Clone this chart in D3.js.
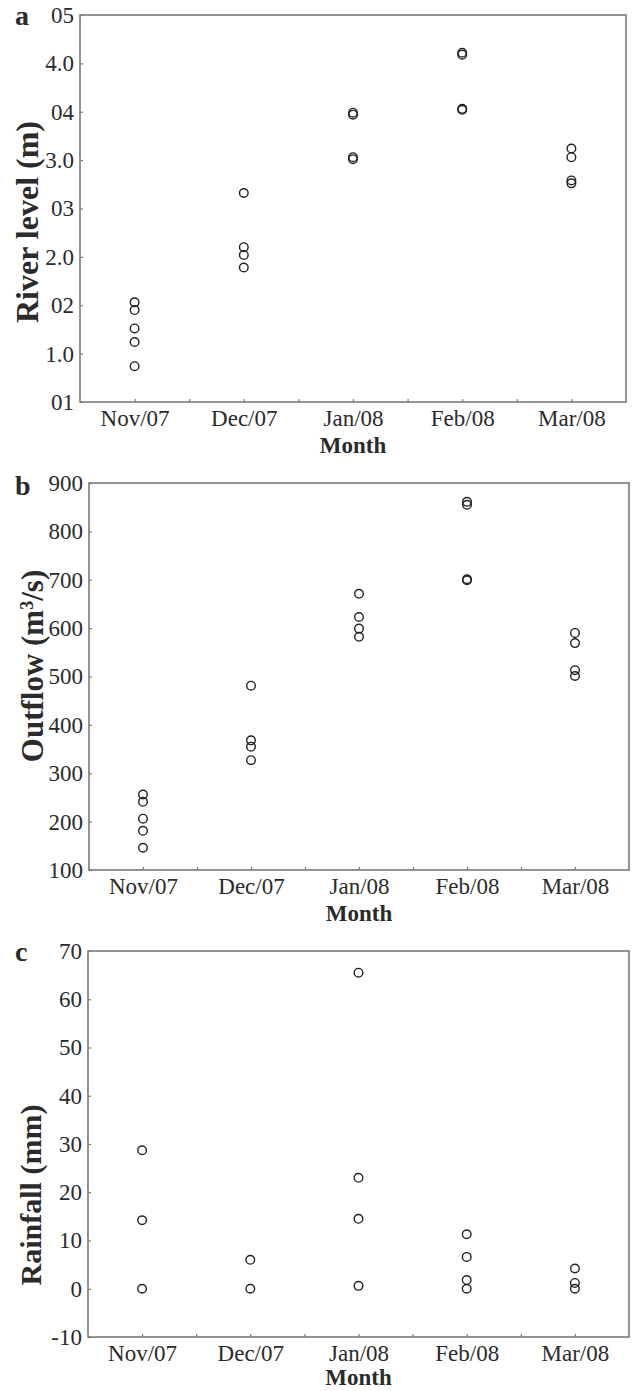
<!DOCTYPE html>
<html>
<head>
<meta charset="utf-8">
<script src="https://cdn.jsdelivr.net/npm/d3@7"></script>
<style>
  body { margin: 0; background: #fff; }
  text { font-family: "Liberation Serif", "Times New Roman", serif; fill: #2b2b2b; }
  .tick line { stroke: #7a7a7a; stroke-width: 1.2; }
  .tick text { font-size: 23px; }
</style>
</head>
<body>
<svg id="chart" width="633" height="1391"></svg>
<script>
/* Data */
const months = ["Nov/07", "Dec/07", "Jan/08", "Feb/08", "Mar/08"];

// river level (m), one list per month
const riverLevel = [
  [1.53, 1.45, 1.26, 1.12, 0.87],
  [2.66, 2.10, 2.02, 1.89],
  [3.49, 3.47, 3.03, 3.01],
  [4.11, 4.09, 3.53, 3.52],
  [3.12, 3.03, 2.79, 2.76]
];
const riverTicks = [0.5, 1.0, 1.5, 2.0, 2.5, 3.0, 3.5, 4.0, 4.5];
const riverTickLabels = ["01", "1.0", "02", "2.0", "03", "3.0", "04", "4.0", "05"];

// outflow (m3/s)
const outflow = [
  [256, 241, 206, 181, 146],
  [481, 368, 355, 327],
  [671, 623, 599, 582],
  [861, 855, 701, 699],
  [590, 569, 513, 501]
];
const outflowTicks = [100, 200, 300, 400, 500, 600, 700, 800, 900];

// rainfall (mm)
const rainfall = [
  [28.7, 14.2, 0],
  [6.0, 0],
  [65.5, 23.0, 14.5, 0.6],
  [11.3, 6.6, 1.8, 0],
  [4.2, 1.2, 0]
];
const rainfallTicks = [-10, 0, 10, 20, 30, 40, 50, 60, 70];

/* Layout */
const panels = [
  { letter: "a", values: riverLevel, ticks: riverTicks, labels: riverTickLabels,
    box: { left: 80, right: 626, top: 15, bottom: 402 },
    title: { y: 222, x: 38, size: 32 }, titleParts: [["River level (m)"]] },
  { letter: "b", values: outflow, ticks: outflowTicks, labels: outflowTicks.map(String),
    box: { left: 89, right: 629, top: 483, bottom: 870 },
    title: { y: 666, x: 43, size: 31 }, titleParts: [["Outflow (m"], ["3", "sup"], ["/s)"]] },
  { letter: "c", values: rainfall, ticks: rainfallTicks, labels: rainfallTicks.map(String),
    box: { left: 88, right: 629, top: 951, bottom: 1337 },
    title: { y: 1195, x: 41, size: 30 }, titleParts: [["Rainfall (mm)"]] }
];

const svg = d3.select("#chart");
const xTickValues = d3.range(1, 5.01, 0.5);

panels.forEach(p => {
  const b = p.box;
  const g = svg.append("g");

  const x = d3.scaleLinear().domain([0.5, 5.5]).range([b.left, b.right]);
  const y = d3.scaleLinear()
    .domain([p.ticks[0], p.ticks[p.ticks.length - 1]])
    .range([b.bottom, b.top]);

  //Axes
  const xAxis = g.append("g")
    .attr("transform", `translate(0,${b.bottom})`)
    .call(d3.axisBottom(x)
      .tickValues(xTickValues)
      .tickSizeInner(-3).tickSizeOuter(0)
      .tickPadding(8)
      .tickFormat(d => Number.isInteger(d) ? months[d - 1] : ""));
  xAxis.select(".domain").remove();

  const yAxis = g.append("g")
    .attr("transform", `translate(${b.left},0)`)
    .call(d3.axisLeft(y)
      .tickValues(p.ticks)
      .tickSizeInner(-3).tickSizeOuter(0)
      .tickPadding(6)
      .tickFormat((d, i) => p.labels[i]));
  yAxis.select(".domain").remove();

  //Frame
  g.append("rect")
    .attr("x", b.left).attr("y", b.top)
    .attr("width", b.right - b.left).attr("height", b.bottom - b.top)
    .attr("fill", "none")
    .attr("stroke", "#7a7a7a")
    .attr("stroke-width", 1.6);

  //Points
  p.values.forEach((list, i) => {
    g.selectAll(null)
      .data(list)
      .enter().append("circle")
      .attr("cx", x(i + 1))
      .attr("cy", d => y(d))
      .attr("r", 4.3)
      .attr("fill", "none")
      .attr("stroke", "#222")
      .attr("stroke-width", 1.4);
  });

  //Labels
  g.append("text")
    .attr("x", (b.left + b.right) / 2)
    .attr("y", Math.min(b.bottom + 51, 1385))
    .attr("text-anchor", "middle")
    .style("font-size", "23px")
    .style("font-weight", "bold")
    .text("Month");

  const title = g.append("text")
    .attr("transform", `translate(${p.title.x},${p.title.y}) rotate(-90)`)
    .attr("text-anchor", "middle")
    .style("font-size", p.title.size + "px")
    .style("font-weight", "bold");
  p.titleParts.forEach(part => {
    const t = title.append("tspan").text(part[0]);
    if (part[1] === "sup") t.attr("baseline-shift", "super").style("font-size", "18px");
  });

  g.append("text")
    .attr("x", 15)
    .attr("y", b.top + (p.letter === "b" ? 12 : 10))
    .style("font-size", "28px")
    .style("font-weight", "bold")
    .text(p.letter);
});
</script>
</body>
</html>
